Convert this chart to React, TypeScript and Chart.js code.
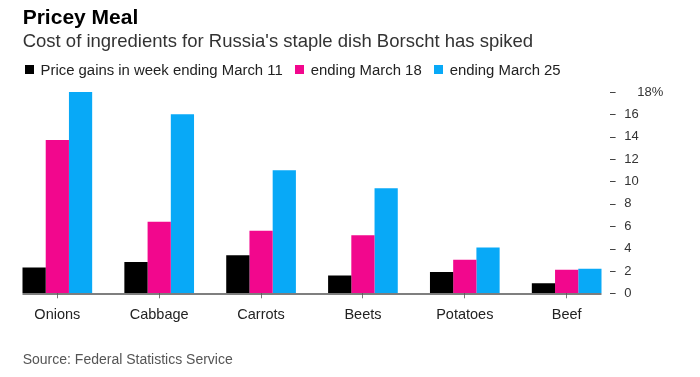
import React, { useEffect, useRef } from "react";
import { Chart, registerables } from "chart.js";

Chart.register(...registerables);

const categories = ["Onions", "Cabbage", "Carrots", "Beets", "Potatoes", "Beef"];
const weekMarch11 = [2.3, 2.8, 3.4, 1.6, 1.9, 0.9];
const weekMarch18 = [13.7, 6.4, 5.6, 5.2, 3.0, 2.1];
const weekMarch25 = [18.0, 16.0, 11.0, 9.4, 4.1, 2.2];
const seriesLabels = ["Price gains in week ending March 11", "ending March 18", "ending March 25"];
const seriesColors = ["#000000", "#F2078D", "#08A9F7"];
const yMin = 0;
const yMax = 18;
const yStep = 2;

const FONT = '"Liberation Sans", Arial, sans-serif';

const decorPlugin = {
  id: "decor",
  afterDatasetsDraw(chart: any) {
    const { ctx, chartArea, scales } = chart;
    const y = scales.y;
    const m0 = chart.getDatasetMeta(0);
    const m2 = chart.getDatasetMeta(chart.data.datasets.length - 1);
    const first = m0.data[0];
    const last = m2.data[m2.data.length - 1];
    const y0 = y.getPixelForValue(0);
    ctx.save();
    ctx.strokeStyle = "#555";
    ctx.lineWidth = 1.5;
    ctx.beginPath();
    ctx.moveTo(first.x - first.width / 2, y0 + 0.75);
    ctx.lineTo(last.x + last.width / 2, y0 + 0.75);
    ctx.stroke();
    ctx.strokeStyle = "#444";
    ctx.lineWidth = 1;
    y.ticks.forEach((t: any) => {
      const py = Math.round(y.getPixelForValue(t.value)) + 0.5;
      ctx.beginPath();
      ctx.moveTo(chartArea.right - 7.6, py);
      ctx.lineTo(chartArea.right - 2, py);
      ctx.stroke();
    });
    ctx.restore();
  },
};

export default function App() {
  const canvasRef = useRef<HTMLCanvasElement | null>(null);

  useEffect(() => {
    if (!canvasRef.current) return;
    const chart = new Chart(canvasRef.current, {
      type: "bar",
      data: {
        labels: categories,
        datasets: [weekMarch11, weekMarch18, weekMarch25].map((d, i) => ({
          label: seriesLabels[i],
          data: d,
          backgroundColor: seriesColors[i],
          borderWidth: 0,
          categoryPercentage: 0.684,
          barPercentage: 1,
        })),
      },
      options: {
        animation: false,
        responsive: true,
        maintainAspectRatio: false,
        layout: { padding: { left: 6.4, right: 0, top: 92, bottom: 43.7 } },
        plugins: {
          legend: { display: false },
          title: { display: false },
          tooltip: { enabled: false },
        },
        scales: {
          x: {
            grid: {
              offset: false,
              drawOnChartArea: false,
              drawTicks: true,
              tickLength: 5,
              color: "#777",
            },
            border: { display: false },
            ticks: {
              padding: 7.6,
              color: "#222",
              font: { family: FONT, size: 14.5 },
              maxRotation: 0,
              autoSkip: false,
            },
            afterFit: (s: any) => {
              s.height = 40;
            },
          },
          y: {
            position: "right",
            min: yMin,
            max: yMax,
            grid: { display: false, drawTicks: false },
            border: { display: false },
            ticks: {
              stepSize: yStep,
              padding: 6.7,
              color: "#333",
              font: { family: FONT, size: 13 },
              callback: (v: any) => (v === yMax ? "\u2002\u2002" + v + "%" : String(v)),
            },
            afterFit: (s: any) => {
              s.width = 82.4;
            },
          },
        },
      },
      plugins: [decorPlugin],
    });
    return () => chart.destroy();
  }, []);

  const text = (extra: React.CSSProperties): React.CSSProperties => ({
    position: "absolute",
    fontFamily: FONT,
    whiteSpace: "nowrap",
    margin: 0,
    ...extra,
  });

  return (
    <div style={{ position: "absolute", left: 0, top: 0, width: 700, height: 377, background: "#fff", overflow: "hidden" }}>
      <div style={{ position: "absolute", left: 0, top: 0, width: 700, height: 377 }}>
        <canvas ref={canvasRef} style={{ display: "block" }} />
      </div>
      <div style={text({ left: 22.7, top: 5.5, fontSize: 21, lineHeight: "21px", fontWeight: 700, color: "#000" })}>
        Pricey Meal
      </div>
      <div style={text({ left: 22.7, top: 31.6, fontSize: 18.5, lineHeight: "18.5px", color: "#333" })}>
        Cost of ingredients for Russia's staple dish Borscht has spiked
      </div>
      <div style={text({ left: 25, top: 62.5, fontSize: 14.9, lineHeight: "14.9px", color: "#222", display: "flex", alignItems: "flex-start" })}>
        {seriesLabels.map((l, i) => (
          <div key={l} style={{ display: "flex", alignItems: "flex-start", marginLeft: i === 0 ? 0 : 12.5 }}>
            <span style={{ display: "inline-block", width: 9, height: 9, marginTop: 2.5, marginRight: 6.5, background: seriesColors[i] }} />
            <span>{l}</span>
          </div>
        ))}
      </div>
      <div style={text({ left: 22.7, top: 352.1, fontSize: 14, lineHeight: "14px", color: "#555" })}>
        Source: Federal Statistics Service
      </div>
    </div>
  );
}
